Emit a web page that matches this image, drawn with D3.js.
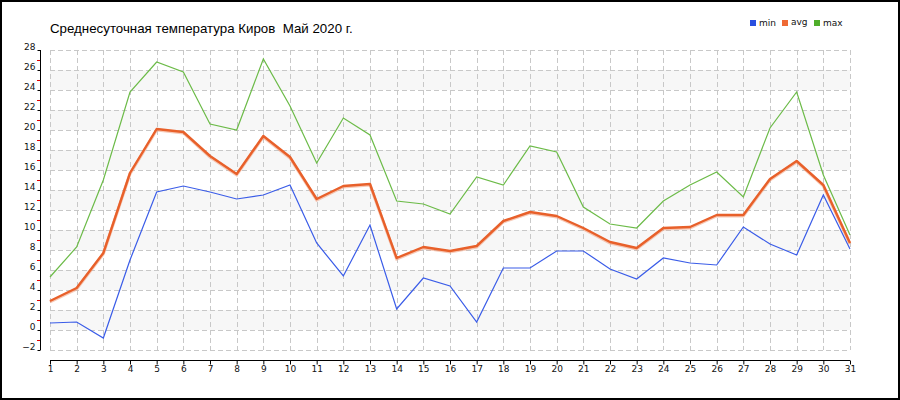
<!DOCTYPE html>
<html><head><meta charset="utf-8">
<script src="https://cdn.jsdelivr.net/npm/d3@7/dist/d3.min.js"></script>
<style>body{margin:0;background:#fff}svg{display:block}</style>
</head><body>
<svg id="chart" width="900" height="400"></svg>
<script>
const title = "Среднесуточная температура Киров  Май 2020 г.";
const days = d3.range(1, 32);
const minVals = [0.7,0.8,-0.8,7.0,13.8,14.4,13.8,13.1,13.5,14.5,8.7,5.4,10.5,2.1,5.2,4.4,0.8,6.2,6.2,7.9,7.9,6.1,5.1,7.2,6.7,6.5,10.3,8.6,7.5,13.5,8.1];
const avgVals = [2.9,4.2,7.7,15.7,20.1,19.8,17.4,15.6,19.4,17.3,13.1,14.4,14.6,7.2,8.3,7.9,8.4,10.9,11.8,11.4,10.2,8.8,8.2,10.2,10.3,11.5,11.5,15.1,16.9,14.5,8.7];
const maxVals = [5.3,8.3,15.0,23.8,26.8,25.8,20.6,20.0,27.1,22.4,16.7,21.2,19.5,12.9,12.6,11.6,15.3,14.5,18.4,17.8,12.3,10.6,10.2,12.9,14.5,15.8,13.3,20.2,23.8,15.5,9.5];
const yTicks = d3.range(-2, 29, 2);
const seriesNames = ["min","avg","max"];
const seriesColors = ["#3a5ce8","#e8602a","#6cbb48"];
const legendColors = ["#2a4fe0","#ef6a35","#4fae2a"];

const svg = d3.select("#chart");
const x = d3.scaleLinear().domain([1,31]).range([50,850]);
const y = d3.scaleLinear().domain([-2,28]).range([350,50]);

// bands
const bands = d3.range(0, 28, 4);
svg.append("g").selectAll("rect").data(bands).join("rect")
  .attr("x", x(1)).attr("width", x(31)-x(1))
  .attr("y", d => y(d+2)).attr("height", d => y(d)-y(d+2))
  .attr("fill", "#f7f7f7");

// grid
const grid = svg.append("g").attr("stroke","#c8c8c8").attr("stroke-dasharray","5,3").attr("stroke-width",1);
grid.selectAll("line.h").data(yTicks).join("line").attr("class","h")
  .attr("x1", x(1)).attr("x2", x(31))
  .attr("y1", d => Math.round(y(d))+0.5).attr("y2", d => Math.round(y(d))+0.5);
grid.selectAll("line.v").data(days).join("line").attr("class","v")
  .attr("y1", y(28)).attr("y2", y(-2))
  .attr("x1", d => Math.round(x(d))+0.5).attr("x2", d => Math.round(x(d))+0.5);

// axes
const fontFam = "'DejaVu Sans', Verdana, sans-serif";
const yAxis = svg.append("g").attr("transform","translate(40.5,0)")
  .call(d3.axisLeft(y).tickValues(yTicks).tickSize(3).tickPadding(2).tickFormat(d3.format("d")));
yAxis.select(".domain").attr("stroke","#000").attr("d", `M0,${y(28)}V${y(-2)}`);
yAxis.selectAll("text").attr("font-size","9px").attr("font-family",fontFam).attr("fill","#111").attr("dy","-0.05em");
// minor red ticks
svg.append("g").selectAll("line").data(d3.range(-1, 28, 2)).join("line")
  .attr("x1", 37).attr("x2", 40)
  .attr("y1", d => Math.round(y(d))+0.5).attr("y2", d => Math.round(y(d))+0.5)
  .attr("stroke","#e00000");

const xAxis = svg.append("g").attr("transform","translate(0,360.5)")
  .call(d3.axisBottom(x).tickValues(days).tickSize(4).tickPadding(1).tickFormat(d3.format("d")));
xAxis.select(".domain").attr("stroke","#000").attr("d", `M${x(1)},0H${x(31)}`);
xAxis.selectAll("text").attr("font-size","9px").attr("font-family",fontFam).attr("fill","#111");

// lines
const line = vals => d3.line().x((d,i) => x(days[i])).y(d => y(d))(vals);
svg.append("path").attr("d", line(minVals)).attr("fill","none").attr("stroke",seriesColors[0]).attr("stroke-width",1.2);
svg.append("path").attr("d", line(maxVals)).attr("fill","none").attr("stroke",seriesColors[2]).attr("stroke-width",1.2);
svg.append("path").attr("d", line(avgVals)).attr("transform","translate(0,1)").attr("fill","none").attr("stroke","#f2a585").attr("stroke-width",3).attr("opacity",0.6);
svg.append("path").attr("d", line(avgVals)).attr("fill","none").attr("stroke",seriesColors[1]).attr("stroke-width",2.4).attr("stroke-linejoin","round");

// title
svg.append("text").attr("x",50).attr("y",33).text(title)
  .style("white-space","pre")
  .attr("font-family","'Liberation Sans', Arial, sans-serif").attr("font-size","13.3px").attr("fill","#000");

// legend
const lg = svg.append("g");
const lx = [750, 782, 814];
seriesNames.forEach((n,i) => {
  lg.append("rect").attr("x", lx[i]).attr("y", 20).attr("width",6).attr("height",6).attr("fill", legendColors[i]);
  lg.append("text").attr("x", lx[i]+9).attr("y", n==="avg" ? 25 : 26).text(n)
    .attr("font-family",fontFam).attr("font-size","9px").attr("fill","#111");
});

// border
svg.append("rect").attr("x",1).attr("y",1).attr("width",898).attr("height",398)
  .attr("fill","none").attr("stroke","#000").attr("stroke-width",2);
</script>
</body></html>
